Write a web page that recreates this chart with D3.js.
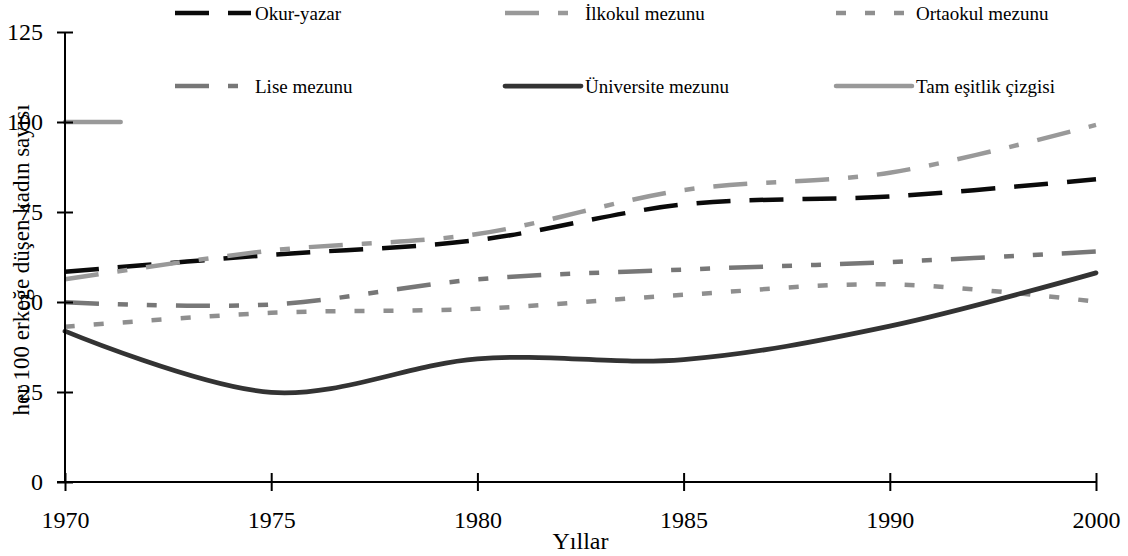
<!DOCTYPE html>
<html>
<head>
<meta charset="utf-8">
<script src="https://cdn.jsdelivr.net/npm/d3@7"></script>
<style>
  body { margin: 0; background: #fff; }
  svg text { font-family: "Liberation Serif", "Times New Roman", serif !important; fill: #000; }
</style>
</head>
<body>
<svg id="chart" width="1128" height="556"></svg>
<script>
// category labels on the x axis (equally spaced)
var years = ["1970", "1975", "1980", "1985", "1990", "2000"];
var yTicks = [0, 25, 50, 75, 100, 125];

// women per 100 men, by education level
var okurYazar  = [58.4, 63.1, 67.2, 77.1, 79.3, 84.1];
var ilkokul    = [56.3, 64.3, 68.9, 81.1, 85.9, 99.2];
var ortaokul   = [43.1, 47.0, 48.1, 52.0, 54.9, 50.1];
var lise       = [49.9, 49.3, 56.3, 59.0, 61.1, 64.0];
var universite = [41.9, 24.9, 34.2, 34.0, 43.3, 58.1];
// full equality reference (short stub at the start of the axis)
var tamEsitlikPos = [0, 0.27];
var tamEsitlik    = [100, 100];

var series = [
  {name: "Okur-yazar",        values: okurYazar,  color: "#0a0a0a", dash: "34,19",             width: 4.5, cap: "butt"},
  {name: "İlkokul mezunu",    values: ilkokul,    color: "#999999", dash: "34,19,10,19",       width: 4.5, cap: "butt"},
  {name: "Ortaokul mezunu",   values: ortaokul,   color: "#8f8f8f", dash: "10,19",             width: 4.5, cap: "butt"},
  {name: "Lise mezunu",       values: lise,       color: "#777777", dash: "34,19,10,19,10,19", width: 4.5, cap: "butt"},
  {name: "Üniversite mezunu", values: universite, color: "#333333", dash: null,                width: 4.75, cap: "round"},
  {name: "Tam eşitlik çizgisi", values: tamEsitlik, pos: tamEsitlikPos, color: "#999999", dash: null, width: 4.5, cap: "round"}
];

var svg = d3.select("#chart");
var margin = {left: 65, right: 32, top: 32, bottom: 74};
var width = 1128 - margin.left - margin.right;
var height = 556 - margin.top - margin.bottom;

var x = d3.scaleLinear().domain([0, years.length - 1]).range([margin.left, margin.left + width]);
var y = d3.scaleLinear().domain([0, 125]).range([margin.top + height, margin.top]);

// lines
var line = d3.line()
    .x(function(d) { return x(d[0]); })
    .y(function(d) { return y(d[1]); })
    .curve(d3.curveCardinal.tension(0));

series.forEach(function(s) {
  var pts = s.values.map(function(v, i) { return [s.pos ? s.pos[i] : i, v]; });
  svg.append("path")
    .attr("d", line(pts))
    .attr("fill", "none")
    .attr("stroke", s.color)
    .attr("stroke-width", s.width)
    .attr("stroke-linecap", s.cap)
    .attr("stroke-dasharray", s.dash);
});

// y axis
var yAxis = d3.axisLeft(y).tickValues(yTicks).tickSize(8).tickPadding(14);
var gy = svg.append("g").attr("transform", "translate(" + margin.left + ",0)").call(yAxis);
gy.attr("font-family", null);
gy.select(".domain").attr("stroke-width", 2).attr("d", "M0," + y(125) + "V" + y(0));
gy.selectAll(".tick line").attr("x1", -8).attr("x2", 8).attr("stroke-width", 2);
gy.selectAll(".tick text").attr("font-size", 24);

// x axis
var xAxis = d3.axisBottom(x).tickValues(d3.range(years.length))
    .tickFormat(function(i) { return years[i]; }).tickSize(9).tickPadding(20);
var gx = svg.append("g").attr("transform", "translate(0," + y(0) + ")").call(xAxis);
gx.attr("font-family", null);
gx.select(".domain").attr("stroke-width", 2).attr("d", "M" + (margin.left - 8) + ",0H" + x(years.length - 1));
gx.selectAll(".tick line").attr("y1", -9).attr("y2", 9).attr("stroke-width", 2);
gx.selectAll(".tick text").attr("font-size", 24);

// axis titles
svg.append("text")
  .attr("x", (x(0) + x(years.length - 1)) / 2)
  .attr("y", 549)
  .attr("text-anchor", "middle")
  .attr("font-size", 24)
  .text("Yıllar");

svg.append("text")
  .attr("transform", "translate(29,260) rotate(-90)")
  .attr("text-anchor", "middle")
  .attr("font-size", 23)
  .text("her 100 erkeğe düşen kadın sayısı");

// legend: 2 rows x 3 columns
var legendCols = [175, 505, 836];
var legendRows = [13, 86];
series.forEach(function(s, i) {
  var lx = legendCols[i % 3];
  var ly = legendRows[Math.floor(i / 3)];
  svg.append("line")
    .attr("x1", lx).attr("x2", lx + 76)
    .attr("y1", ly).attr("y2", ly)
    .attr("stroke", s.color)
    .attr("stroke-width", s.width)
    .attr("stroke-linecap", s.cap)
    .attr("stroke-dasharray", s.dash);
  svg.append("text")
    .attr("x", lx + 80)
    .attr("y", ly)
    .attr("dy", "0.35em")
    .attr("font-size", 19)
    .text(s.name);
});
</script>
</body>
</html>
